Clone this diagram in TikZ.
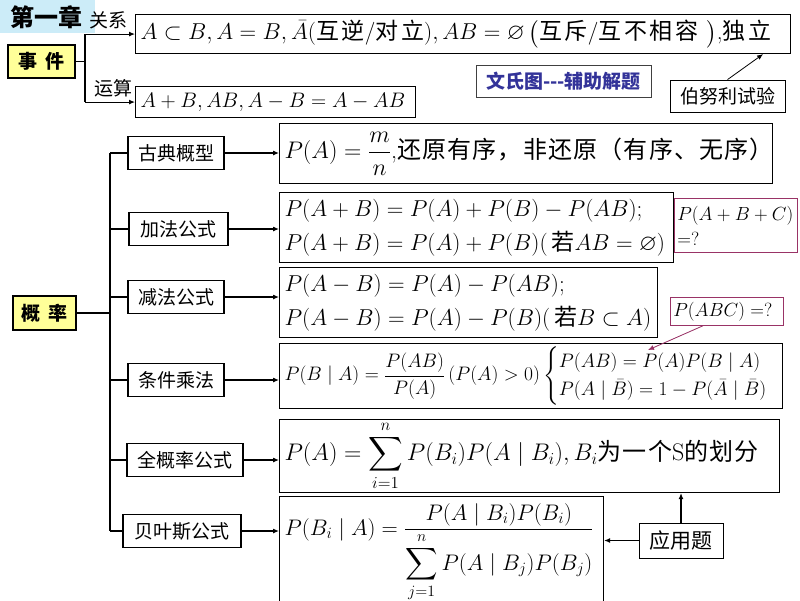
\documentclass[tikz,border=0pt]{standalone}
\usepackage{fix-cm}
\usepackage{amsmath,amssymb}
\usepackage{fontspec}
\newfontfamily\cjk{Noto Sans CJK SC}
\newfontfamily\cjkw[LetterSpace=12]{Noto Sans CJK SC}
\newfontfamily\cjkm[LetterSpace=5]{Noto Sans CJK SC}
\usetikzlibrary{positioning,arrows.meta}
\definecolor{chapbg}{RGB}{204,236,248}
\definecolor{hilite}{RGB}{255,255,153}
\definecolor{vennblue}{RGB}{51,51,153}
\definecolor{askpurple}{RGB}{153,51,102}
\newcommand\fsz[1]{\fontsize{#1}{#1}\selectfont}
\tikzset{
  catbox/.style={draw, line width=1.1pt, inner sep=0pt, minimum height=33pt,
    font=\cjk\fsz{19}},
  topbox/.style={catbox, fill=hilite, font=\cjk\bfseries\fsz{19}},
  notebox/.style={draw, line width=.8pt, inner sep=0pt, minimum height=32pt},
  formbox/.style={draw, line width=1.1pt, anchor=north west, inner xsep=5pt,
    inner ysep=0pt, align=left},
  askbox/.style={draw=askpurple, line width=.8pt, anchor=north west,
    inner xsep=3pt, inner ysep=0pt, align=left, font=\fontsize{19}{25}\selectfont},
  lbl/.style={inner sep=0pt, font=\cjk\fsz{19}},
  link/.style={line width=1.1pt},
  tip/.style={link, -{Latex[length=6pt,width=5pt]}},
}
\begin{document}
\begin{tikzpicture}[x=1pt, y=-1pt]
\useasboundingbox (0,0) rectangle (800,600);
\clip (0,0) rectangle (800,600);
\fill[chapbg] (0,0) rectangle (95,33);
\node[lbl, font=\cjk\bfseries\fsz{24}] (chap) at (46,17) {第一章};

\node[topbox, minimum width=67pt] (sj) at (41.5,61.5) {事\hspace{.45em}件};
\node[formbox, text width=645pt, minimum height=39pt,
  font=\fontsize{23}{27}\selectfont] (rel) at (135,14)
  {\mbox{$A\subset B, A=B, \bar{A}$({\cjkw 互逆}$/${\cjkw 对立}$), AB=\varnothing\,\bigl($%
   {\cjkw 互斥}$/${\cjkw 互不相容} $\bigr)$,{\cjkw 独立}}};
\node[formbox, text width=270pt, minimum height=31pt,
  font=\fontsize{21}{25}\selectfont] (ops) at (135,86)
  {$A+B, AB, A-B=A-AB$};
\node[lbl] (gx) at (108,20) {关系};
\node[lbl] (ys) at (113,88) {运算};
\coordinate (etrunk) at (85,0);
\draw[link] (sj.east) -- (sj.east -| etrunk);
\draw[link] (etrunk |- rel.west) -- (etrunk |- ops.west);
\draw[tip] (etrunk |- rel.west) -- (rel.west);
\draw[tip] (etrunk |- ops.west) -- (ops.west);

\node[notebox, draw=black!75, minimum width=175pt, text=vennblue,
  font=\cjk\bfseries\fsz{19}] (venn) at (563.5,81.5) {文氏图{-}{-}{-}辅助解题};
\node[notebox, minimum width=115pt, font=\cjk\fsz{19}] (bnl) at (727.5,96) {伯努利试验};
\draw[tip, line width=.8pt] (bnl.north) -- ([xshift=-28pt]rel.south east);

\node[topbox, minimum width=63pt, minimum height=34pt] (gl) at (44.5,313) {概\hspace{.45em}率};
\node[catbox, minimum width=96pt] (gd) at (176,153) {古典概型};
\node[catbox, minimum width=99pt] (jf) at (178.5,229) {加法公式};
\node[catbox, minimum width=96pt] (jian) at (176,297) {减法公式};
\node[catbox, minimum width=96pt] (tj) at (176,380) {条件乘法};
\node[catbox, minimum width=116pt] (qgl) at (185,460) {全概率公式};
\node[catbox, minimum width=118pt] (bys) at (182,531) {贝叶斯公式};

\node[formbox, text width=483pt, minimum height=60pt,
  font=\fontsize{24}{28}\selectfont] (fgd) at (279,123)
  {$P(A)=\dfrac{m}{n}$,{\cjkm 还原有序，非还原（有序、无序）}};
\node[formbox, text width=384pt, minimum height=70pt,
  font=\fontsize{23}{34}\selectfont] (fjf) at (279,192)
  {$P(A+B)=P(A)+P(B)-P(AB);$\\
   $P(A+B)=P(A)+P(B)($\,{\cjk 若}$AB=\varnothing)$};
\node[formbox, text width=368pt, minimum height=70pt,
  font=\fontsize{23}{34}\selectfont] (fjian) at (279,267)
  {$P(A-B)=P(A)-P(AB);$\\
   $P(A-B)=P(A)-P(B)($\,{\cjk 若}$B\subset A)$};
\node[formbox, text width=493pt, minimum height=65pt,
  font=\fontsize{19.5}{23}\selectfont] (ftj) at (279,343)
  {\mbox{$P(B\mid A)=\dfrac{P(AB)}{P(A)}\,(P(A)>0)\begin{cases}P(AB)=P(A)P(B\mid A)\\
   P(A\mid\bar{B})=1-P(\bar{A}\mid\bar{B})\end{cases}$}};
\node[formbox, text width=490pt, minimum height=73pt,
  font=\fontsize{24}{30}\selectfont] (fqgl) at (279,419)
  {$P(A)=\displaystyle\sum_{i=1}^{n}P(B_i)P(A\mid B_i),B_i${\cjkm 为一个}S{\cjkm 的划分}};
\node[formbox, text width=314pt, minimum height=112pt,
  font=\fontsize{22.5}{27}\selectfont] (fbys) at (279,496)
  {\mbox{$P(B_i\mid A)=\dfrac{P(A\mid B_i)P(B_i)}{\displaystyle\sum_{j=1}^{n}P(A\mid B_j)P(B_j)}$}};

\node[askbox, text width=117pt, minimum height=54pt] (abc1) at (674,198)
  {$P(A+B+C)$\\$=?$};
\node[askbox, text width=107pt, minimum height=28pt] (abc2) at (670,297)
  {$P(ABC)=?$};
\draw[tip, line width=.8pt, draw=askpurple, fill=askpurple]
  ([xshift=-24pt]abc2.south) -- ([xshift=369pt,yshift=-7pt]ftj.north west);

\node[notebox, minimum width=84pt, minimum height=35pt, font=\cjk\fsz{21}]
  (yyt) at (681,540.5) {应用题};
\draw[tip] (yyt.north) -- (yyt.north |- fqgl.south);
\draw[tip] (yyt.west) -- (yyt.west -| fbys.east);

\coordinate (trunk) at (110,0);
\draw[link] (gl.east) -- (gl.east -| trunk);
\draw[link] (trunk |- gd.west) -- (trunk |- bys.west);
\foreach \c/\f in {gd/fgd, jf/fjf, jian/fjian, tj/ftj, qgl/fqgl, bys/fbys}{
  \draw[link] (trunk |- \c.west) -- (\c.west);
  \draw[tip] (\c.east) -- (\c.east -| \f.west);
}
\end{tikzpicture}
\end{document}
